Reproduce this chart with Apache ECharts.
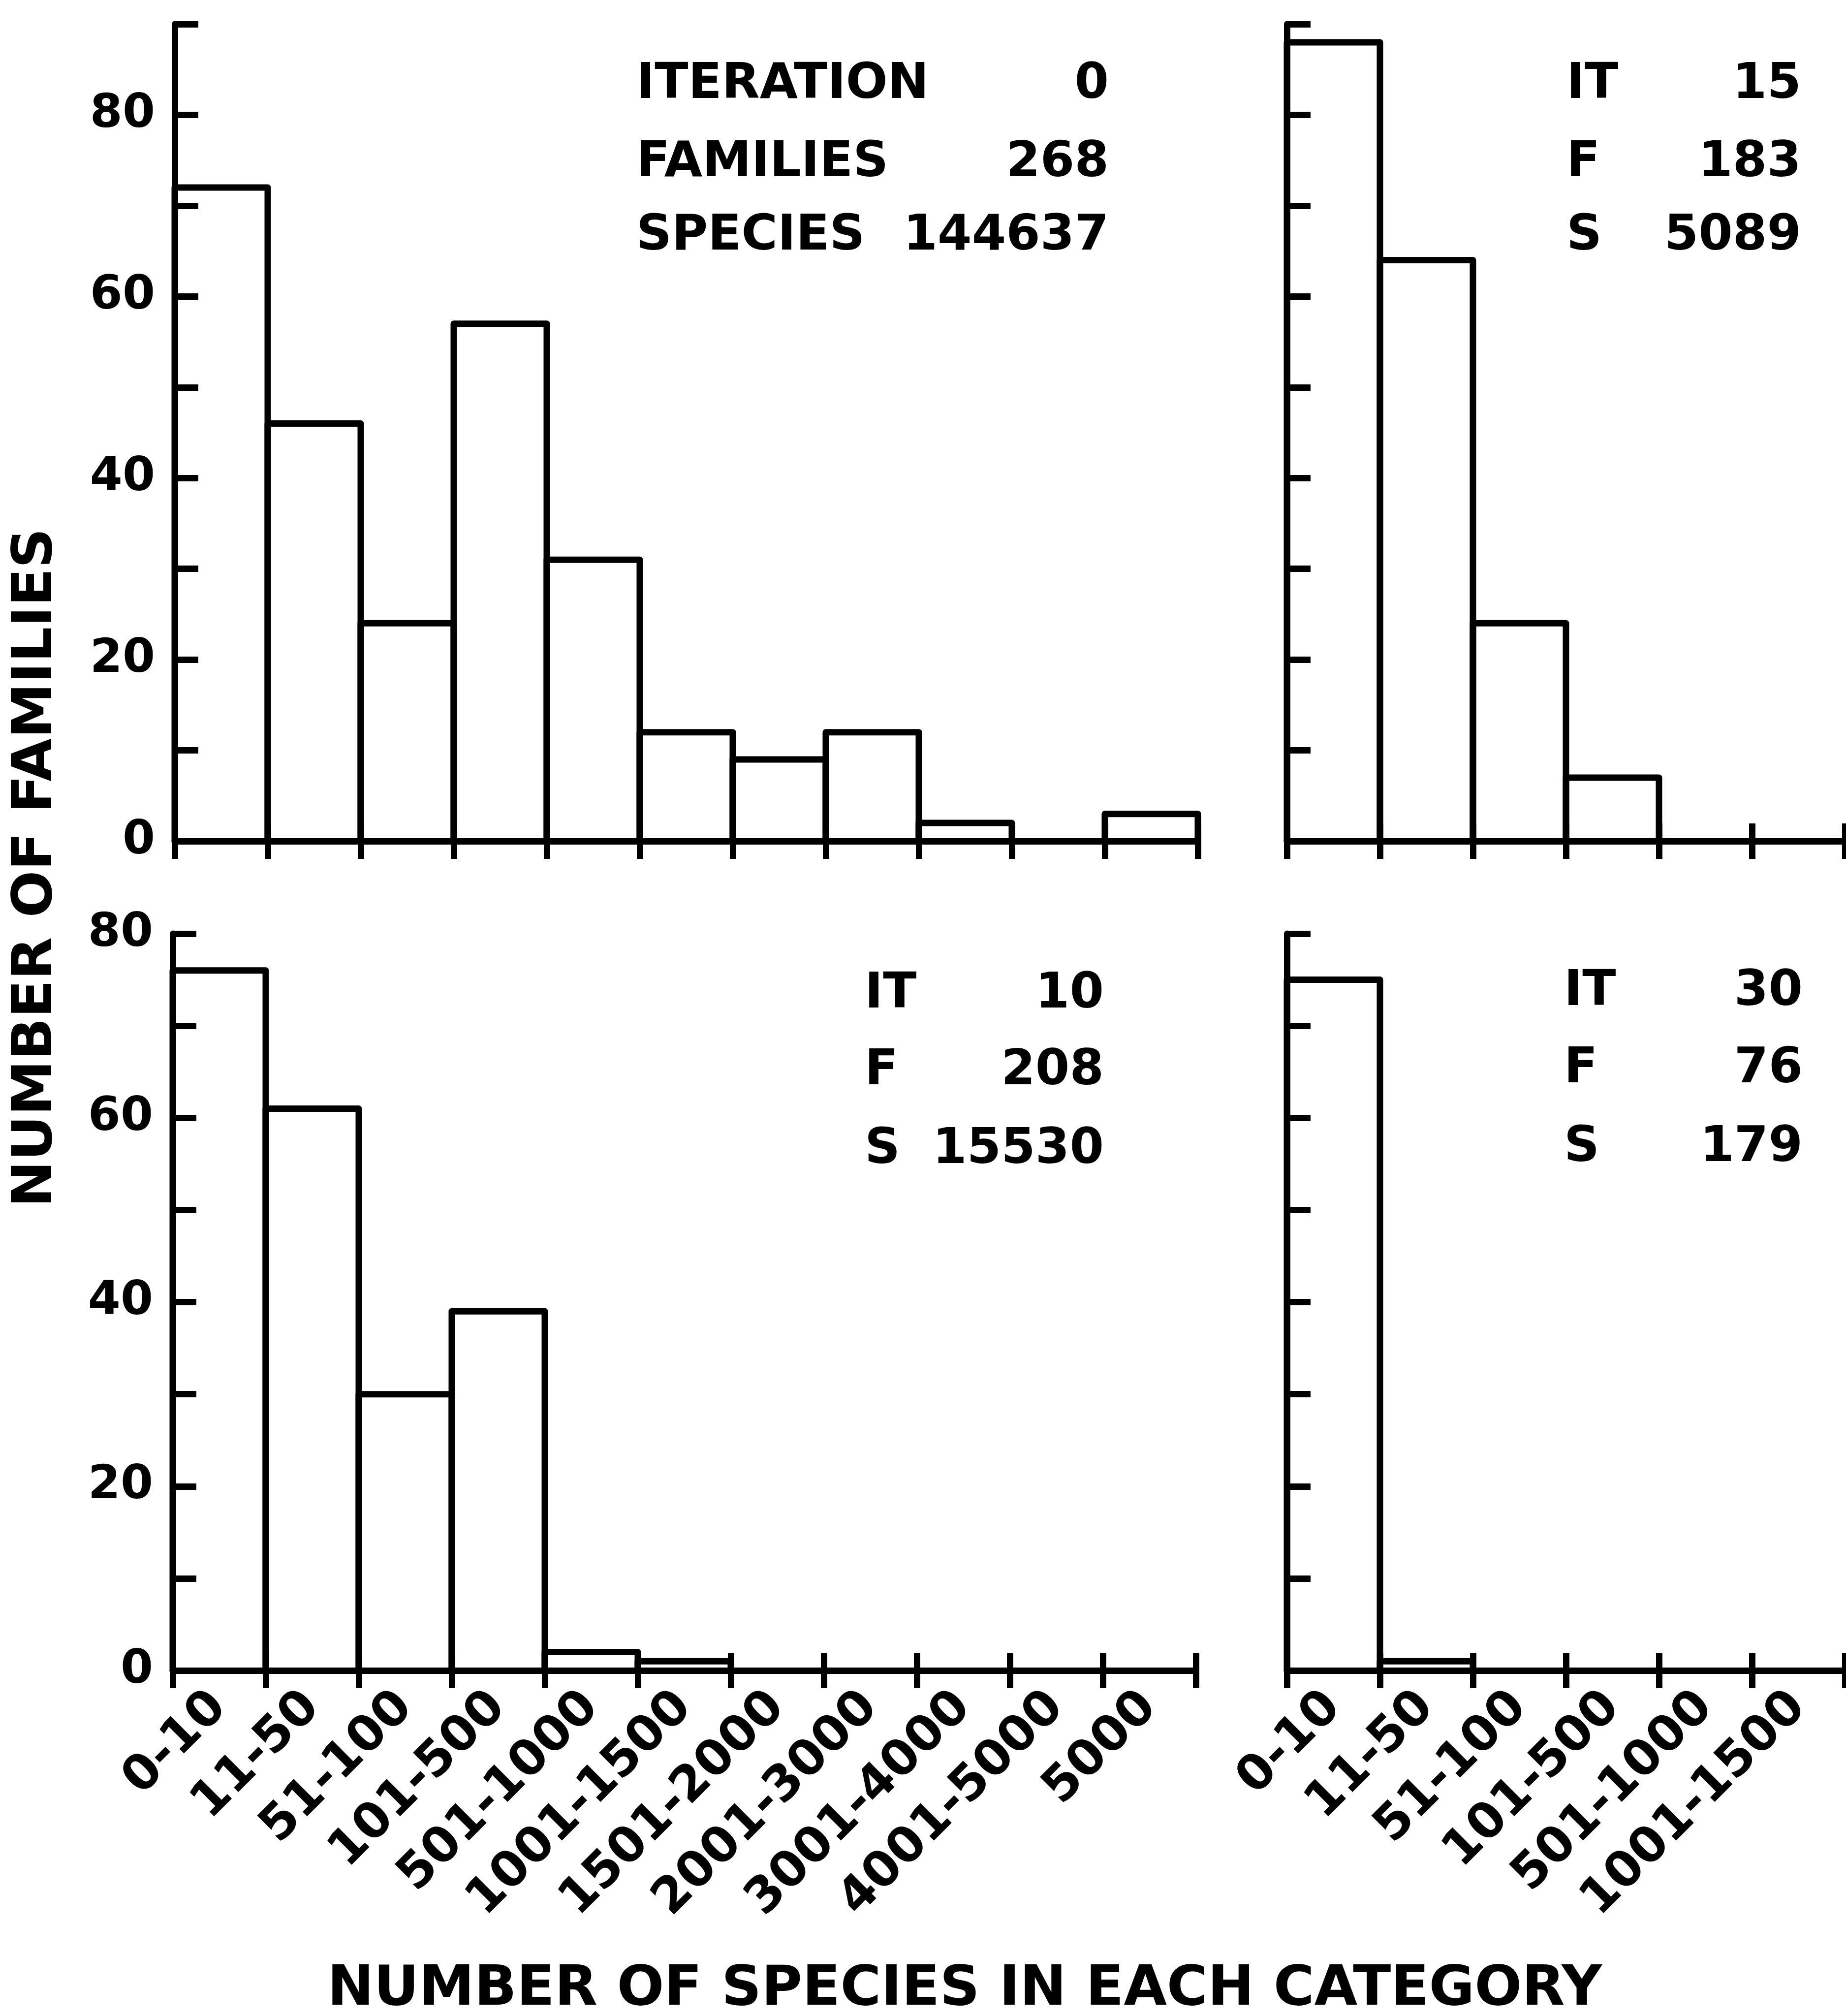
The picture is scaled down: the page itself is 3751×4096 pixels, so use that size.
<!DOCTYPE html>
<html>
<head>
<meta charset="utf-8">
<script src="https://cdn.jsdelivr.net/npm/echarts@6/dist/echarts.min.js"></script>
<style>
  html, body { margin: 0; padding: 0; background: #ffffff; }
  #main { width: 3751px; height: 4096px; }
</style>
</head>
<body>
<div id="main"></div>
<script>
// ---------- data ----------
const categoriesWide = ['0-10', '11-50', '51-100', '101-500', '501-1000', '1001-1500',
                        '1501-2000', '2001-3000', '3001-4000', '4001-5000', '5000'];
const categoriesNarrow = ['0-10', '11-50', '51-100', '101-500', '501-1000', '1001-1500'];

const familiesIt0  = [72, 46, 24, 57, 31, 12, 9, 12, 2, 0, 3];
const familiesIt15 = [88, 64, 24, 7, 0, 0];
const familiesIt10 = [76, 61, 30, 39, 2, 1, 0, 0, 0, 0, 0];
const familiesIt30 = [75, 1, 0, 0, 0, 0];

const yMaxTop = 90;
const yMaxBottom = 80;
const yTickStep = 10;
const yLabelStep = 20;

const headingsLong  = ['ITERATION', 'FAMILIES', 'SPECIES'];
const headingsShort = ['IT', 'F', 'S'];
const iterations    = [0, 15, 10, 30];
const familyTotals  = [268, 183, 208, 76];
const speciesTotals = [144637, 5089, 15530, 179];

const yTitle = 'NUMBER OF FAMILIES';
const xTitle = 'NUMBER OF SPECIES IN EACH CATEGORY';

// ---------- styling / layout ----------
const FONT = 'DejaVu Sans';
const INK = '#000000';
const LW = 13;

const grids = [
  { left: 355,  top: 49,   width: 2079, height: 1660 },
  { left: 2615, top: 49,   width: 1134, height: 1660 },
  { left: 351,  top: 1897, width: 2079, height: 1497 },
  { left: 2615, top: 1897, width: 1134, height: 1497 }
];
const panelCats = [categoriesWide, categoriesNarrow, categoriesWide, categoriesNarrow];
const panelData = [familiesIt0, familiesIt15, familiesIt10, familiesIt30];
const panelMax = [yMaxTop, yMaxTop, yMaxBottom, yMaxBottom];
const panelShowY = [true, false, true, false];
const panelShowX = [false, false, true, true];

function renderBin(params, api) {
  const v = api.value(1);
  if (!v) return null;
  const k = api.value(0);
  const base = api.coord([k, 0]);
  const top = api.coord([k, v]);
  const bw = api.size([1, 0])[0];
  const x0 = base[0] - bw / 2;
  const x1 = base[0] + bw / 2;
  return {
    type: 'polyline',
    shape: { points: [[x0, base[1]], [x0, top[1]], [x1, top[1]], [x1, base[1]]] },
    style: { fill: null, stroke: INK, lineWidth: LW, lineJoin: 'round', lineCap: 'round' },
    silent: true
  };
}

const xAxes = [];
const yAxes = [];
const series = [];

panelCats.forEach((cats, i) => {
  // main x axis: line + ticks below
  xAxes.push({
    type: 'category', gridIndex: i, data: cats, position: 'bottom',
    boundaryGap: true,
    axisLine: { show: true, onZero: false, lineStyle: { color: INK, width: LW, cap: 'round' } },
    axisTick: { show: true, inside: false, length: 36, interval: 0, alignWithLabel: false,
                lineStyle: { color: INK, width: LW } },
    axisLabel: { show: panelShowX[i], interval: 0, rotate: 45, margin: 60,
                 fontFamily: FONT, fontWeight: 'bold', fontSize: 100, color: INK },
    splitLine: { show: false }
  });
  // companion x axis: ticks above the line (ticks cross the axis)
  xAxes.push({
    type: 'category', gridIndex: i, data: cats, position: 'bottom',
    boundaryGap: true,
    axisLine: { show: false },
    axisTick: { show: true, inside: true, length: 36, interval: 0,
                lineStyle: { color: INK, width: LW } },
    axisLabel: { show: false },
    splitLine: { show: false }
  });
  yAxes.push({
    type: 'value', gridIndex: i, min: 0, max: panelMax[i], interval: yTickStep,
    axisLine: { show: true, onZero: false, lineStyle: { color: INK, width: LW, cap: 'round' } },
    axisTick: { show: true, inside: true, length: 48, lineStyle: { color: INK, width: LW } },
    axisLabel: {
      show: panelShowY[i], margin: 40, fontFamily: FONT, fontWeight: 'bold', fontSize: 95, color: INK,
      formatter: v => (v % yLabelStep === 0 ? String(v) : '')
    },
    splitLine: { show: false }
  });
  series.push({
    type: 'custom', xAxisIndex: 2 * i, yAxisIndex: i,
    data: panelData[i].map((v, k) => [k, v]),
    encode: { x: 0, y: 1 },
    renderItem: renderBin,
    silent: true, clip: false, z: 3
  });
});

// annotation blocks
const noteLayout = [
  { lx: 1293, rx: 2253, ys: [173, 332, 481] },
  { lx: 3183, rx: 3660, ys: [173, 332, 481] },
  { lx: 1757, rx: 2243, ys: [2021, 2177, 2337] },
  { lx: 3178, rx: 3663, ys: [2016, 2173, 2333] }
];
const NOTE_FONT = 'bold 100px "' + FONT + '"';
const TITLE_FONT = 'bold 113px "' + FONT + '"';
const graphics = [];
noteLayout.forEach((nl, i) => {
  const heads = i === 0 ? headingsLong : headingsShort;
  const vals = [iterations[i], familyTotals[i], speciesTotals[i]];
  heads.forEach((h, k) => {
    graphics.push({
      type: 'text', x: nl.lx, y: nl.ys[k], silent: true,
      style: { text: h, fill: INK, font: NOTE_FONT,
               textAlign: 'left', textVerticalAlign: 'middle' }
    });
    graphics.push({
      type: 'text', x: nl.rx, y: nl.ys[k], silent: true,
      style: { text: String(vals[k]), fill: INK, font: NOTE_FONT,
               textAlign: 'right', textVerticalAlign: 'middle' }
    });
  });
});
graphics.push({
  type: 'text', x: 75, y: 1763, rotation: Math.PI / 2, silent: true,
  style: { text: yTitle, fill: INK, font: TITLE_FONT,
           textAlign: 'center', textVerticalAlign: 'middle' }
});
graphics.push({
  type: 'text', x: 1960, y: 4044, silent: true,
  style: { text: xTitle, fill: INK, font: TITLE_FONT,
           textAlign: 'center', textVerticalAlign: 'middle' }
});

const chart = echarts.init(document.getElementById('main'), null, { renderer: 'canvas' });
chart.setOption({
  backgroundColor: '#ffffff',
  animation: false,
  textStyle: { fontFamily: FONT, color: INK },
  grid: grids.map(g => Object.assign({ containLabel: false, outerBoundsMode: 'none' }, g)),
  xAxis: xAxes,
  yAxis: yAxes,
  series: series,
  graphic: graphics
});
</script>
</body>
</html>
